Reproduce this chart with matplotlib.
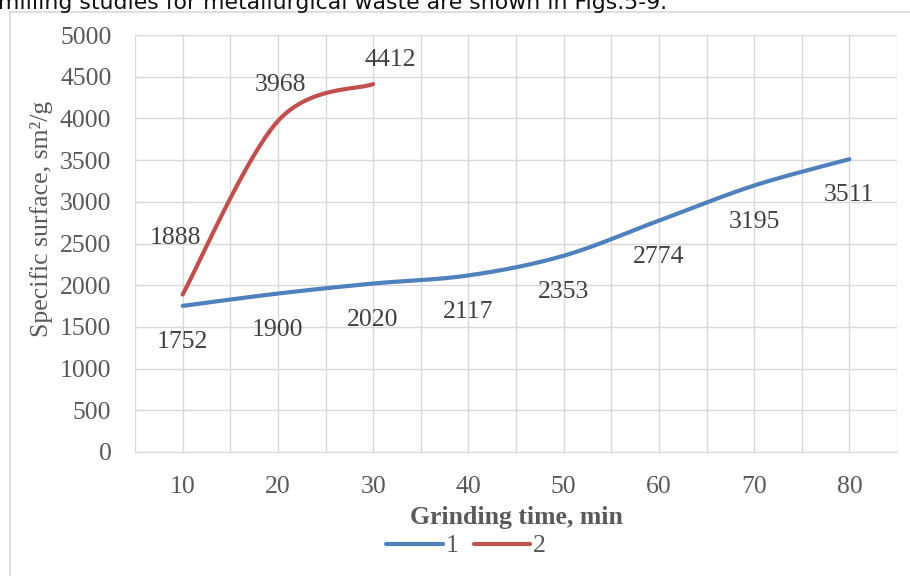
import numpy as np
import matplotlib
matplotlib.use("Agg")
import matplotlib.pyplot as plt
from matplotlib.patches import Rectangle

# data
time1 = [10, 20, 30, 40, 50, 60, 70, 80]
surf1 = [1752, 1900, 2020, 2117, 2353, 2774, 3195, 3511]
time2 = [10, 20, 30]
surf2 = [1888, 3968, 4412]
names = ["1", "2"]
xticks = [10, 20, 30, 40, 50, 60, 70, 80]
yticks = list(range(0, 5001, 500))

blue = "#4F81BD"
red = "#C0504D"
grey = "#595959"


def smooth(x, y, n=40):
    # catmull-rom style smoothing like excel "smoothed line"
    x = np.asarray(x, float)
    y = np.asarray(y, float)
    px = np.concatenate([[x[0]], x, [x[-1]]])
    py = np.concatenate([[y[0]], y, [y[-1]]])
    xs, ys = [], []
    for i in range(1, len(px) - 2):
        t = np.linspace(0, 1, n)
        for p, out in ((px, xs), (py, ys)):
            p0, p1, p2, p3 = p[i - 1], p[i], p[i + 1], p[i + 2]
            c1 = p1 + (p2 - p0) / 6
            c2 = p2 - (p3 - p1) / 6
            out.extend((1 - t) ** 3 * p1 + 3 * (1 - t) ** 2 * t * c1
                       + 3 * (1 - t) * t ** 2 * c2 + t ** 3 * p2)
    return np.array(xs), np.array(ys)


plt.rcParams["font.family"] = ["Liberation Serif", "DejaVu Serif"]

fig = plt.figure(figsize=(9.1, 5.76), dpi=100)
ax = fig.add_axes([135 / 910, 1 - 452 / 576, 762 / 910, 417 / 576])

# outer chart frame
fig.patches.append(Rectangle((10 / 910, -0.05), 1.0, 1 - 12 / 576 + 0.05,
                             transform=fig.transFigure, fill=False,
                             edgecolor="#d9d9d9", lw=1.2))
fig.text(-0.002, 1 - 9 / 576, "milling studies for metallurgical waste are shown in Figs.5-9.",
         family="DejaVu Sans", fontsize=15.8, va="baseline", ha="left", color="#111111")

sx, sy = smooth(time1, surf1)
l1, = ax.plot(sx, sy, color=blue, lw=3, solid_capstyle="round", label=names[0])
sx, sy = smooth(time2, surf2)
l2, = ax.plot(sx, sy, color=red, lw=3, solid_capstyle="round", label=names[1])

for x, y in zip(time1, surf1):
    ax.annotate(str(y), (x, y), xytext=(0, -26), textcoords="offset points",
                ha="center", va="center", fontsize=18.5, color="#404040")

offs2 = [(-5, 41), (2, 26), (12, 17)]
for (x, y), o in zip(zip(time2, surf2), offs2):
    ax.annotate(str(y), (x, y), xytext=o, textcoords="offset points",
                ha="center", va="center", fontsize=18.5, color="#404040")

ax.set_xlim(5, 85)
ax.set_ylim(0, 5000)
ax.set_xticks(xticks)
ax.set_xticks(np.arange(5, 86, 5), minor=True)
ax.set_yticks(yticks)
ax.grid(True, which="both", color="#d9d9d9", lw=1)
ax.set_axisbelow(True)
for s in ["top", "right", "left"]:
    ax.spines[s].set_visible(False)
ax.spines["bottom"].set_color("#d9d9d9")
ax.tick_params(which="both", length=0, colors=grey, labelsize=18.5)
ax.tick_params(axis="x", pad=17)
ax.tick_params(axis="y", pad=17)

ax.set_xlabel("Grinding time, min", fontsize=18.5, fontweight="bold", color=grey, labelpad=6)
ax.set_ylabel("Specific surface, sm²/g", fontsize=18.5, color=grey)
ax.yaxis.set_label_coords(-0.107, 0.56)

fig.legend(handles=[l1, l2], loc="center", bbox_to_anchor=(466 / 910, 1 - 546 / 576),
           ncol=2, frameon=False, fontsize=18.5, handlelength=2.2, handletextpad=0.1,
           columnspacing=0.6, labelcolor=grey)

fig.savefig("out.png", dpi=100)
